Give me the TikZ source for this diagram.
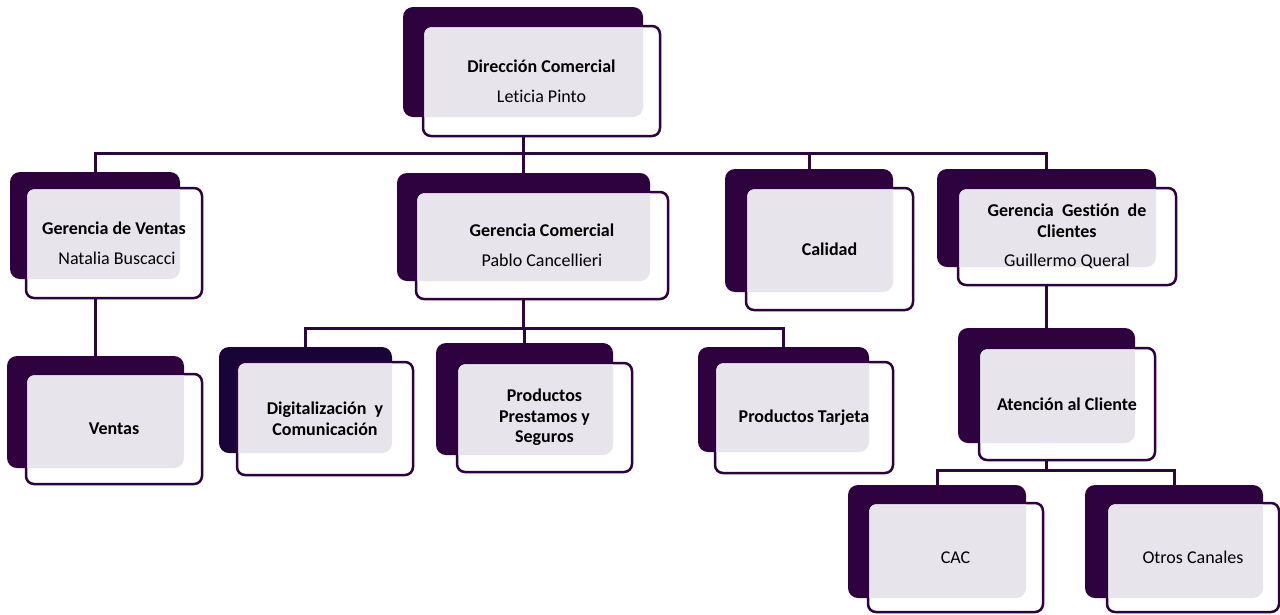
\documentclass[tikz,border=0pt]{standalone}
\usepackage{fontspec}
\setmainfont{Carlito}[Ligatures=CommonOff]
\usetikzlibrary{fit,calc,backgrounds}
\pgfdeclarelayer{canvas}
\pgfsetlayers{canvas,background,main}
\definecolor{dpurple}{RGB}{46,2,62}
\definecolor{dnavy}{RGB}{24,4,54}
\definecolor{lav}{RGB}{232,228,235}
\definecolor{connc}{RGB}{42,8,58}
\tikzset{
  backbox/.style={rounded corners=10pt, inner sep=0pt, draw=none},
  frontbox/.style={fill=white, draw=dpurple, line width=2.5pt, rounded corners=8pt, inner sep=0pt},
  boxtext/.style={align=center, font=\fontsize{18}{20.5}\selectfont\bfseries, inner sep=0pt},
  conn/.style={draw=connc, line width=3pt},
}
\newcommand\orgunit[7][dpurple]{%
  \node[backbox, fill=#1, fit={(#3) (#4)}] (#2B) {};
  \node[frontbox, fit={(#5) (#6)}] (#2F) {};
  \begin{scope}
    \clip[rounded corners=7pt] ($(#5)+(1.3,1.3)$) rectangle ($(#6)-(1.3,1.3)$);
    \fill[lav, rounded corners=10pt] (#3) rectangle (#4);
  \end{scope}
  \node[boxtext] (#2) at (#2F.center) {#7};
}
\begin{document}
\begin{tikzpicture}[x=1pt,y=-1pt]
\begin{pgfonlayer}{canvas}
  \fill[white] (0,0) rectangle (1280,614);
\end{pgfonlayer}
\useasboundingbox (0,0) rectangle (1280,614);
\orgunit{dir}{403,7}{643,117}{423,26}{660,136}{Dirección Comercial\\[9.5pt]\mdseries Leticia Pinto}
\orgunit{gv}{10,172}{180,279}{26,188}{202,298}{Gerencia de Ventas\\[9.5pt]\mdseries\hspace*{6pt}Natalia Buscacci}
\orgunit{gc}{397,173}{650,281}{416,192}{668,299}{Gerencia Comercial\\[9.5pt]\mdseries Pablo Cancellieri}
\orgunit{cal}{725,169}{893,292}{746,188}{913,310}{Calidad}
\orgunit{ggc}{937,169}{1156,267}{958,188}{1176,285}{Gerencia\ \ Gestión\ \ de\\Clientes\\[8.5pt]\mdseries Guillermo Queral}
\orgunit{at}{958,328}{1135,443}{979,348}{1155,460}{Atención al Cliente}
\orgunit{ven}{7,356}{184,468}{26,374}{202,484}{Ventas}
\orgunit[dnavy]{dig}{219,347}{392,453}{237,362}{413,475}{Digitalización\ \ y\\Comunicación}
\orgunit{pp}{436,343}{613,455}{457,363}{632,472}{Productos\\Prestamos y\\Seguros}
\orgunit{pt}{698,347}{869,452}{715,362}{893,473}{Productos Tarjeta}
\orgunit{cac}{848,485}{1026,598}{868,503}{1043,612}{\mdseries CAC}
\orgunit{otr}{1085,485}{1263,598}{1107,503}{1279,612}{\mdseries Otros Canales}
\coordinate (busA) at (0,153);
\coordinate (busB) at (0,328);
\coordinate (busC) at (0,470);
\begin{pgfonlayer}{background}
  \draw[conn] (dirB.south) -- (dirB.south |- busA) -| (gvB.north);
  \draw[conn] (dirB.south) -- (dirB.south |- busA) -| (gcB.north);
  \draw[conn] (dirB.south) -- (dirB.south |- busA) -| (calB.north);
  \draw[conn] (dirB.south) -- (dirB.south |- busA) -| (ggcB.north);
  \draw[conn] (gvB.south) -- (gvB.south |- venB.north);
  \draw[conn] (gcB.south) -- (gcB.south |- busB) -| (digB.north);
  \draw[conn] (gcB.south) -- (gcB.south |- busB) -| (ppB.north);
  \draw[conn] (gcB.south) -- (gcB.south |- busB) -| (ptB.north);
  \draw[conn] (ggcB.south) -- (ggcB.south |- atB.north);
  \draw[conn] (atB.south) -- (atB.south |- busC) -| (cacB.north);
  \draw[conn] (atB.south) -- (atB.south |- busC) -| (otrB.north);
\end{pgfonlayer}
\end{tikzpicture}
\end{document}
